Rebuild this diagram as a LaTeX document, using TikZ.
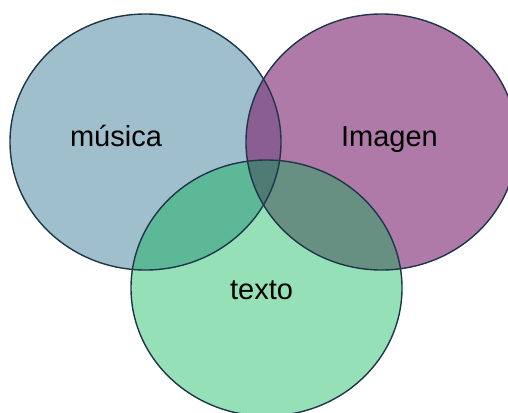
\documentclass[tikz,border=0pt]{standalone}
\usepackage{fontspec}
\setmainfont{Liberation Sans}
\definecolor{cmus}{HTML}{A0BFCC}
\definecolor{cimg}{HTML}{B07AA8}
\definecolor{ctxt}{HTML}{96E0B8}
\definecolor{cmi}{HTML}{8A5E93}
\definecolor{cmt}{HTML}{5CB897}
\definecolor{cit}{HTML}{678F82}
\definecolor{cmit}{HTML}{4E7B73}
\definecolor{cline}{HTML}{1F3548}
\begin{document}
\begin{tikzpicture}[x=1pt,y=-1pt,
  lbl/.style={font=\fontsize{29}{31}\selectfont, anchor=base, text=black, inner sep=0pt},
  ring/.style={draw=cline, line width=1.4pt}]
\useasboundingbox (0,0) rectangle (508,412);
\def\rx{135.5}\def\ry{128}
% base fills
\fill[cmus] (145.5,142) ellipse [x radius=\rx, y radius=\ry];
\fill[cimg] (381.5,142) ellipse [x radius=\rx, y radius=\ry];
\fill[ctxt] (266.5,288) ellipse [x radius=\rx, y radius=\ry];
% pairwise overlaps
\begin{scope}
  \clip (145.5,142) ellipse [x radius=\rx, y radius=\ry];
  \fill[cmi] (381.5,142) ellipse [x radius=\rx, y radius=\ry];
  \fill[cmt] (266.5,288) ellipse [x radius=\rx, y radius=\ry];
\end{scope}
\begin{scope}
  \clip (381.5,142) ellipse [x radius=\rx, y radius=\ry];
  \fill[cit] (266.5,288) ellipse [x radius=\rx, y radius=\ry];
  \clip (145.5,142) ellipse [x radius=\rx, y radius=\ry];
  \fill[cmit] (266.5,288) ellipse [x radius=\rx, y radius=\ry];
\end{scope}
% outlines
\draw[ring] (145.5,142) ellipse [x radius=\rx, y radius=\ry];
\draw[ring] (381.5,142) ellipse [x radius=\rx, y radius=\ry];
\draw[ring] (266.5,288) ellipse [x radius=\rx, y radius=\ry];
% labels
\node[lbl] (mus) at (116,146) {música};
\node[lbl] (img) at (389.5,146) {Imagen};
\node[lbl] (txt) at (261.5,299) {texto};
\end{tikzpicture}
\end{document}
